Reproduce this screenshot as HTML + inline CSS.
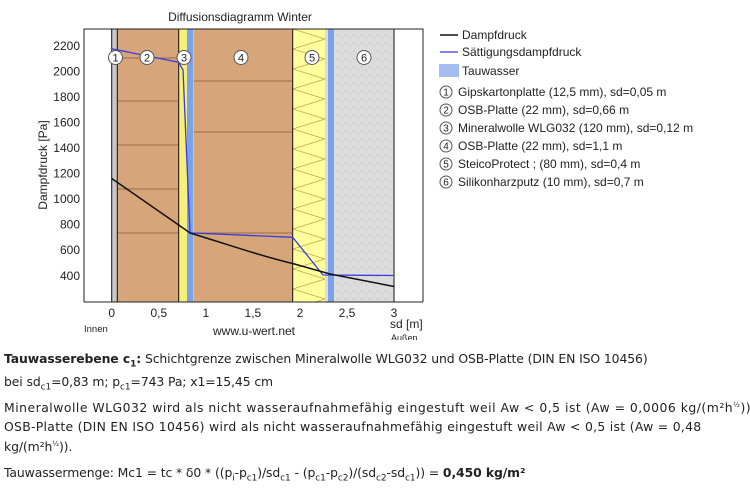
<!DOCTYPE html><html><head><style>
body{margin:0;width:750px;height:490px;background:#fff;font-family:"Liberation Sans",sans-serif;overflow:hidden;position:relative}
.t{position:absolute;left:4px;font-family:"DejaVu Sans","Liberation Sans",sans-serif;font-size:12.4px;color:#222;white-space:nowrap;letter-spacing:-0.1px}
sub{font-size:9px}
</style></head><body>
<svg width="750" height="340" style="position:absolute;left:0;top:0" font-family="Liberation Sans" font-size="12">
<defs>
<pattern id="z" width="36" height="20" patternUnits="userSpaceOnUse" x="292.7" y="29"><path d="M0,0 L32.3,10 L0,20" fill="none" stroke="#bca64a" stroke-width="0.8"/></pattern>
<pattern id="d" width="8" height="8" patternUnits="userSpaceOnUse"><rect width="8" height="8" fill="#dcdcdc"/><circle cx="2" cy="3" r="0.6" fill="#aaa"/><circle cx="6" cy="6" r="0.5" fill="#bbb"/></pattern>
</defs>
<text x="240" y="21" text-anchor="middle" fill="#222">Diffusionsdiagramm Winter</text>
<rect x="84" y="29" width="339" height="273" fill="#fff"/>
<rect x="111.7" y="29" width="5.6" height="273" fill="#c8c8c8"/>
<rect x="117.3" y="29" width="61.4" height="273" fill="#d6a57a"/>
<rect x="178.7" y="29" width="10" height="273" fill="#f4f07a"/>
<rect x="188.7" y="29" width="5" height="273" fill="#c8c8c8"/>
<rect x="193.7" y="29" width="99" height="273" fill="#d6a57a"/>
<rect x="292.7" y="29" width="32.3" height="273" fill="#ffff9e"/>
<rect x="292.7" y="29" width="32.3" height="273" fill="url(#z)"/>
<rect x="325" y="29" width="69" height="273" fill="url(#d)"/>
<rect x="187" y="29" width="6" height="273" fill="#7ba2e8"/>
<rect x="328" y="29" width="6" height="273" fill="#7ba2e8"/>
<g stroke="#8a5a30" stroke-width="0.7">
<line x1="117" y1="101" x2="178" y2="101"/><line x1="117" y1="145" x2="178" y2="145"/><line x1="117" y1="189" x2="178" y2="189"/><line x1="117" y1="233" x2="178" y2="233"/><line x1="117" y1="58" x2="178" y2="58"/>
<line x1="194" y1="81" x2="292" y2="81"/><line x1="194" y1="132" x2="292" y2="132"/><line x1="194" y1="233" x2="292" y2="233"/>
</g>
<g stroke="#111" stroke-width="1">
<line x1="111.7" y1="29" x2="111.7" y2="302"/><line x1="117.3" y1="29" x2="117.3" y2="302"/><line x1="178.7" y1="29" x2="178.7" y2="302"/><line x1="292.7" y1="29" x2="292.7" y2="302"/><line x1="394" y1="29" x2="394" y2="302"/>
</g>
<polyline points="111.7,48.8 178.7,62.2 183,70 190,232.9 292.7,237.3 323,275 394,275.5" fill="none" stroke="#3b3be0" stroke-width="1.3"/>
<path d="M111.7,178.5 C140,198 160,212 178.7,225 L190,233 C230,245 260,256 292.7,263.5 L330,274 L394,286.5" fill="none" stroke="#111" stroke-width="1.5"/>
<g fill="#fff" stroke="#555" stroke-width="1"><circle cx="115.5" cy="57.5" r="7"/><circle cx="147" cy="57.5" r="7"/><circle cx="184" cy="57.5" r="7"/><circle cx="241" cy="57.5" r="7"/><circle cx="312" cy="57.5" r="7"/><circle cx="364" cy="57.5" r="7"/></g>
<g font-size="11" text-anchor="middle" fill="#222"><text x="115.5" y="61.5">1</text><text x="147" y="61.5">2</text><text x="184" y="61.5">3</text><text x="241" y="61.5">4</text><text x="312" y="61.5">5</text><text x="364" y="61.5">6</text></g>
<path d="M84,302 L84,29 L423,29 L423,302" fill="none" stroke="#222"/>
<line x1="84" y1="302" x2="423" y2="302" stroke="#222"/>
<g text-anchor="end" fill="#222" font-size="12">
<text x="80" y="50">2200</text><text x="80" y="75.5">2000</text><text x="80" y="101">1800</text><text x="80" y="126.5">1600</text><text x="80" y="152">1400</text><text x="80" y="177.5">1200</text><text x="80" y="203">1000</text><text x="80" y="228.5">800</text><text x="80" y="254">600</text><text x="80" y="280">400</text></g>
<g text-anchor="middle" fill="#222" font-size="12">
<text x="111.7" y="317">0</text><text x="158.8" y="317">0,5</text><text x="205.8" y="317">1</text><text x="252.9" y="317">1,5</text><text x="300" y="317">2</text><text x="347" y="317">2,5</text><text x="394" y="317">3</text></g>
<text x="47" y="165" transform="rotate(-90 47 165)" text-anchor="middle" fill="#222" font-size="12">Dampfdruck [Pa]</text>
<text x="84" y="332" font-size="9.5" fill="#222">Innen</text>
<text x="254" y="335" text-anchor="middle" fill="#222" font-size="12">www.u-wert.net</text>
<text x="390" y="328" fill="#222" font-size="12">sd [m]</text>
<text x="391" y="341" fill="#222" font-size="9">Außen</text>
<line x1="440" y1="35" x2="458" y2="35" stroke="#111" stroke-width="1.5"/>
<line x1="440" y1="52" x2="458" y2="52" stroke="#3b3be0" stroke-width="1.3"/>
<rect x="439" y="64" width="20" height="13" fill="#a3bdf0"/>
<g fill="#222" font-size="12"><text x="462" y="39">Dampfdruck</text><text x="462" y="56">Sättigungsdampfdruck</text><text x="462" y="75">Tauwasser</text>
<text x="458" y="96">Gipskartonplatte (12,5 mm), sd=0,05 m</text>
<text x="458" y="114">OSB-Platte (22 mm), sd=0,66 m</text>
<text x="458" y="132">Mineralwolle WLG032 (120 mm), sd=0,12 m</text>
<text x="458" y="150">OSB-Platte (22 mm), sd=1,1 m</text>
<text x="458" y="168">SteicoProtect ; (80 mm), sd=0,4 m</text>
<text x="458" y="186">Silikonharzputz (10 mm), sd=0,7 m</text></g>
<g fill="#fff" stroke="#555"><circle cx="446" cy="92" r="6"/><circle cx="446" cy="110" r="6"/><circle cx="446" cy="128" r="6"/><circle cx="446" cy="146" r="6"/><circle cx="446" cy="164" r="6"/><circle cx="446" cy="182" r="6"/></g>
<g font-size="10" text-anchor="middle" fill="#222"><text x="446" y="95.5">1</text><text x="446" y="113.5">2</text><text x="446" y="131.5">3</text><text x="446" y="149.5">4</text><text x="446" y="167.5">5</text><text x="446" y="185.5">6</text></g>
</svg>
<div class="t" style="top:351px"><b>Tauwasserebene c<sub>1</sub>:</b> Schichtgrenze zwischen Mineralwolle WLG032 und OSB-Platte (DIN EN ISO 10456)</div>
<div class="t" style="top:374px">bei sd<sub>c1</sub>=0,83 m; p<sub>c1</sub>=743 Pa; x1=15,45 cm</div>
<div class="t" style="top:400px;letter-spacing:0.5px">Mineralwolle WLG032 wird als nicht wasseraufnahmefähig eingestuft weil Aw &lt; 0,5 ist (Aw = 0,0006 kg/(m²h<sup style="font-size:7px">½</sup>)).</div>
<div class="t" style="top:419px;letter-spacing:0.3px">OSB-Platte (DIN EN ISO 10456) wird als nicht wasseraufnahmefähig eingestuft weil Aw &lt; 0,5 ist (Aw = 0,48</div>
<div class="t" style="top:439px">kg/(m²h<sup style="font-size:7px">½</sup>)).</div>
<div class="t" style="top:465px">Tauwassermenge: Mc1 = tc * δ0 * ((p<sub>i</sub>-p<sub>c1</sub>)/sd<sub>c1</sub> - (p<sub>c1</sub>-p<sub>c2</sub>)/(sd<sub>c2</sub>-sd<sub>c1</sub>)) = <b>0,450 kg/m²</b></div>
</body></html>
